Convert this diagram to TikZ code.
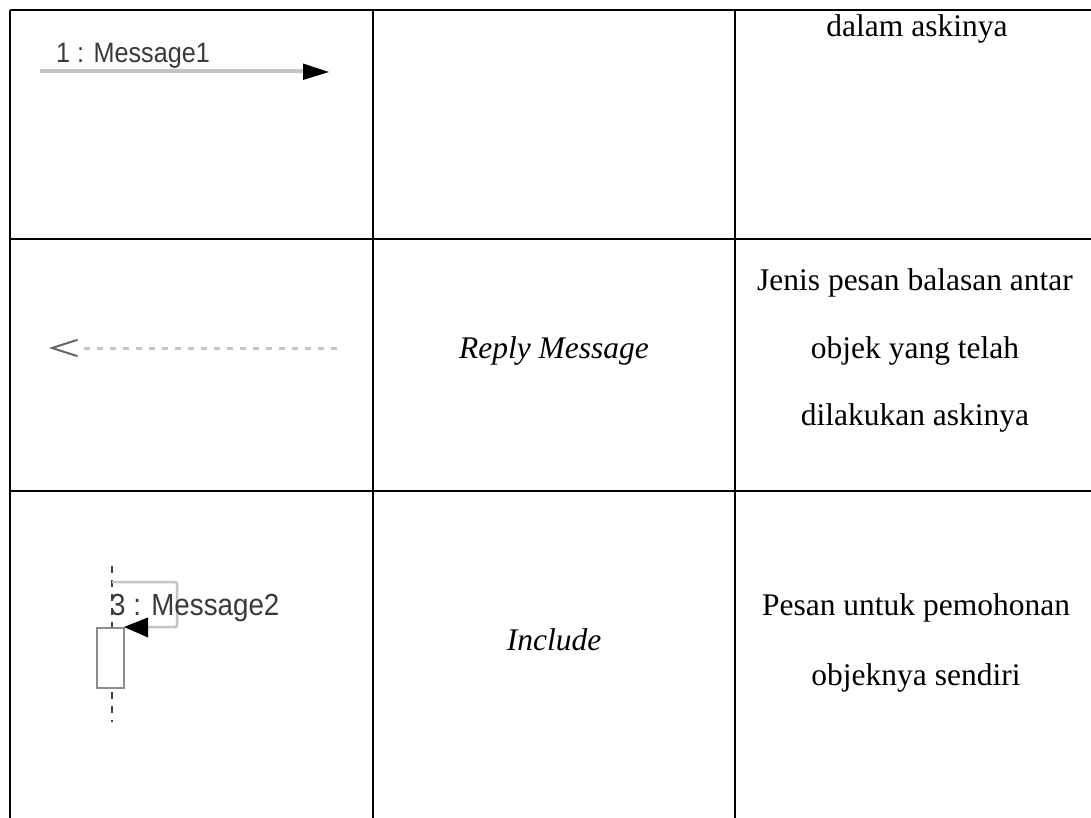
\documentclass[tikz,border=0pt]{standalone}
\usepackage{fontspec}
\setmainfont{Liberation Serif}
\newfontfamily\umlfont{Liberation Sans}
\begin{document}
\begin{tikzpicture}[x=1pt,y=-1pt,
  rule/.style={line width=2.6pt,black},
  celltext/.style={anchor=base,inner sep=0pt,font=\fontsize{31.5}{31.5}\selectfont},
  termtext/.style={celltext,font=\fontsize{31.5}{31.5}\selectfont\itshape},
  umllabel/.style={anchor=base west,inner sep=0pt,text=umltext},
  msgline/.style={line width=3.5pt,color=umlline},
  replyline/.style={line width=3pt,color=umlline,dash pattern=on 6pt off 7pt},
  loopline/.style={line width=2.5pt,color=umlline},
  actbox/.style={line width=2pt,draw=umlbox,fill=white},
  lifeline/.style={line width=1.6pt,color=black!75,dash pattern=on 7pt off 7pt}]
\definecolor{umltext}{RGB}{58,58,58}
\definecolor{umlline}{RGB}{196,196,196}
\definecolor{umlbox}{RGB}{140,140,140}
\useasboundingbox (0,0) rectangle (1091,818);
\fill[white] (0,0) rectangle (1091,818);

% table rules
\draw[rule] (10,10) -- (1100,10);
\draw[rule] (10,239) -- (1100,239);
\draw[rule] (10,491) -- (1100,491);
\draw[rule] (10,10) -- (10,830);
\draw[rule] (373,10) -- (373,830);
\draw[rule] (735,10) -- (735,830);

% row 1: synchronous message
\node[umllabel] (m1) at (56,63) {\scalebox{0.9}[1]{\umlfont\fontsize{28}{28}\selectfont 1 : Message1}};
\coordinate (m1s) at (40,71);
\coordinate (m1e) at (304,71);
\coordinate (m1t) at (329,72);
\draw[msgline] (m1s) -- (m1e);
\fill[black] (303,63.5) -- (m1t) -- (303,80) -- cycle;
\node[celltext] (d1) at (917,37) {dalam askinya};

% row 2: reply message
\coordinate (r1s) at (337,348);
\coordinate (r1e) at (80,348);
\coordinate (r1t) at (52,348);
\draw[replyline] (r1s) -- (r1e);
\draw[line width=2pt,color=black!60,line cap=round] (77,340) -- (r1t) -- (77,356);
\node[termtext] (t2) at (554,358) {Reply Message};
\node[celltext] (d2a) at (915,290) {Jenis pesan balasan antar};
\node[celltext] (d2b) at (915,358) {objek yang telah};
\node[celltext] (d2c) at (915,425) {dilakukan askinya};

% row 3: self message
\coordinate (llt) at (112,566);
\coordinate (llb) at (112,722);
\draw[lifeline] (llt) -- (llb);
\coordinate (lp1) at (112,582);
\coordinate (lp2) at (177,582);
\coordinate (lp3) at (177,627);
\coordinate (lp4) at (146,627);
\draw[loopline,rounded corners=1.5pt] (lp1) -- (lp2) -- (lp3) -- (lp4);
\node[actbox,draw,minimum width=27pt,minimum height=60pt,inner sep=0pt,anchor=north west] (act) at (96,627) {};
\fill[black] (148,617.5) -- (124,627) -- (148,637.5) -- cycle;
\node[umllabel] (m2) at (110,615) {\scalebox{0.91}[1]{\umlfont\fontsize{30.5}{30.5}\selectfont 3 : Message2}};
\node[termtext] (t3) at (554,650) {Include};
\node[celltext] (d3a) at (916,615) {Pesan untuk pemohonan};
\node[celltext] (d3b) at (916,685) {objeknya sendiri};
\end{tikzpicture}
\end{document}
